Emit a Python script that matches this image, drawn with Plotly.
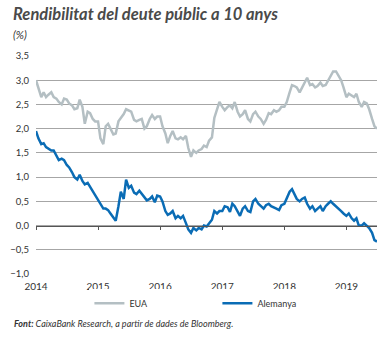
import plotly.graph_objects as go
import pandas as pd

# semi-monthly observations (1st and 15th of each month), Jan 2014 - Jun 2019, plus last obs
months = pd.date_range("2014-01-01", "2019-06-01", freq="MS")
dates = []
for m in months:
    dates.append(m)
    dates.append(m + pd.Timedelta(days=14))
dates.append(pd.Timestamp("2019-06-30"))

eua = [
    3.00, 2.85, 2.65, 2.75, 2.65, 2.70, 2.75, 2.65, 2.62, 2.55, 2.50, 2.62,
    2.60, 2.52, 2.48, 2.40, 2.42, 2.60, 2.45, 2.10, 2.35, 2.32, 2.20, 2.15,
    2.15, 1.80, 1.68, 2.05, 2.10, 2.00, 1.88, 1.90, 2.15, 2.22, 2.30, 2.40,
    2.38, 2.35, 2.18, 2.15, 2.18, 2.20, 2.00, 2.05, 2.20, 2.28, 2.20, 2.25,
    2.25, 2.05, 1.90, 1.70, 1.85, 1.95, 1.80, 1.78, 1.82, 1.78, 1.85, 1.60,
    1.42, 1.55, 1.50, 1.55, 1.58, 1.65, 1.62, 1.75, 1.82, 2.22, 2.40, 2.55,
    2.45, 2.38, 2.45, 2.48, 2.42, 2.55, 2.35, 2.25, 2.30, 2.38, 2.20, 2.15,
    2.30, 2.35, 2.25, 2.20, 2.10, 2.18, 2.32, 2.30, 2.38, 2.35, 2.38, 2.45,
    2.45, 2.55, 2.75, 2.90, 2.88, 2.85, 2.75, 2.85, 2.95, 3.05, 2.90, 2.92,
    2.85, 2.88, 2.95, 2.88, 2.90, 3.00, 3.10, 3.18, 3.18, 3.08, 3.00, 2.85,
    2.65, 2.72, 2.68, 2.65, 2.72, 2.55, 2.45, 2.55, 2.52, 2.40, 2.20, 2.05,
    2.00,
]

alemanya = [
    1.95, 1.80, 1.68, 1.70, 1.62, 1.58, 1.55, 1.55, 1.45, 1.35, 1.38, 1.35,
    1.25, 1.20, 1.10, 1.00, 0.95, 1.05, 0.92, 0.85, 0.88, 0.80, 0.70, 0.62,
    0.52, 0.45, 0.35, 0.35, 0.32, 0.25, 0.18, 0.10, 0.40, 0.70, 0.55, 0.95,
    0.78, 0.82, 0.68, 0.65, 0.72, 0.65, 0.58, 0.52, 0.55, 0.60, 0.48, 0.62,
    0.60, 0.50, 0.30, 0.22, 0.25, 0.30, 0.15, 0.20, 0.15, 0.20, 0.05, -0.08,
    -0.15, -0.05, -0.10, -0.05, -0.08, 0.00, -0.02, 0.05, 0.12, 0.30, 0.25, 0.30,
    0.30, 0.40, 0.38, 0.28, 0.45, 0.40, 0.30, 0.20, 0.35, 0.40, 0.30, 0.28,
    0.50, 0.55, 0.45, 0.40, 0.35, 0.42, 0.45, 0.40, 0.38, 0.35, 0.32, 0.42,
    0.45, 0.58, 0.70, 0.75, 0.65, 0.55, 0.50, 0.55, 0.58, 0.45, 0.35, 0.40,
    0.30, 0.35, 0.40, 0.30, 0.40, 0.45, 0.50, 0.45, 0.40, 0.35, 0.30, 0.25,
    0.20, 0.25, 0.15, 0.10, 0.15, 0.00, 0.00, 0.05, 0.00, -0.05, -0.15, -0.30,
    -0.33,
]

years = ["2014", "2015", "2016", "2017", "2018", "2019"]
y_ticks = [-1.0, -0.5, 0.0, 0.5, 1.0, 1.5, 2.0, 2.5, 3.0, 3.5]

C_EUA = "#b4bfc3"
C_DE = "#0a6cb5"
TXT = "#333333"
FONT = "Lato"

fig = go.Figure()
fig.add_trace(go.Scatter(x=dates, y=eua, name="EUA", mode="lines",
                         line=dict(color=C_EUA, width=2.5)))
fig.add_trace(go.Scatter(x=dates, y=alemanya, name="Alemanya", mode="lines",
                         line=dict(color=C_DE, width=2.5), xaxis="x2"))

ymin, ymax = -1.02, 3.52
zero_pos = (0 - ymin) / (ymax - ymin)
xr = ["2014-01-01", "2019-06-30"]

fig.update_layout(
    width=387, height=338,
    margin=dict(l=32.5, r=10, t=54.5, b=63),
    paper_bgcolor="white", plot_bgcolor="white",
    separators=",.",
    font=dict(family=FONT, size=9, color=TXT),
    showlegend=True,
    legend=dict(orientation="h", x=0.532, xanchor="center", y=-0.128, yanchor="middle",
                font=dict(size=9, color=TXT), itemwidth=30,
                entrywidth=83, entrywidthmode="pixels"),
    xaxis=dict(range=xr, tickvals=[pd.Timestamp(y + "-01-01") for y in years],
               ticktext=years, showgrid=False, showline=False, ticks="",
               zeroline=False, ticklabelstandoff=4,
               tickfont=dict(size=10, color=TXT)),
    xaxis2=dict(range=xr, matches="x", overlaying="x", anchor="free",
                position=zero_pos, showline=True, linecolor="#555555", linewidth=1,
                ticks="outside", ticklen=3, tickcolor="#555555",
                tickvals=[pd.Timestamp(y + "-01-01") for y in years],
                showticklabels=False, showgrid=False, zeroline=False),
    yaxis=dict(range=[ymin, ymax], tickvals=y_ticks, tickformat=".1f",
               showgrid=True, gridcolor="#a6a6a6", gridwidth=1, zeroline=False,
               showline=False, ticks="", ticklabelstandoff=6,
               tickfont=dict(size=9.5, color=TXT)),
    annotations=[
        dict(text="<b><i>Rendibilitat del deute públic a 10 anys</i></b>",
             xref="paper", yref="paper", x=0, xshift=-25, y=1, yshift=41,
             xanchor="left", yanchor="middle", showarrow=False,
             font=dict(size=16.5, color="#4a4a4a", family=FONT)),
        dict(text="<i>(%)</i>", xref="paper", yref="paper", x=0, xshift=-25,
             y=1, yshift=21, xanchor="left", yanchor="middle", showarrow=False,
             font=dict(size=11, color=TXT, family=FONT)),
        dict(text="<b><i>Font:</i></b><i> CaixaBank Research, a partir de dades de Bloomberg.</i>",
             xref="paper", yref="paper", x=0, xshift=-24, y=0, yshift=-48,
             xanchor="left", yanchor="middle", showarrow=False,
             font=dict(size=9, color=TXT, family=FONT)),
    ],
)

fig.write_html("out.html")
